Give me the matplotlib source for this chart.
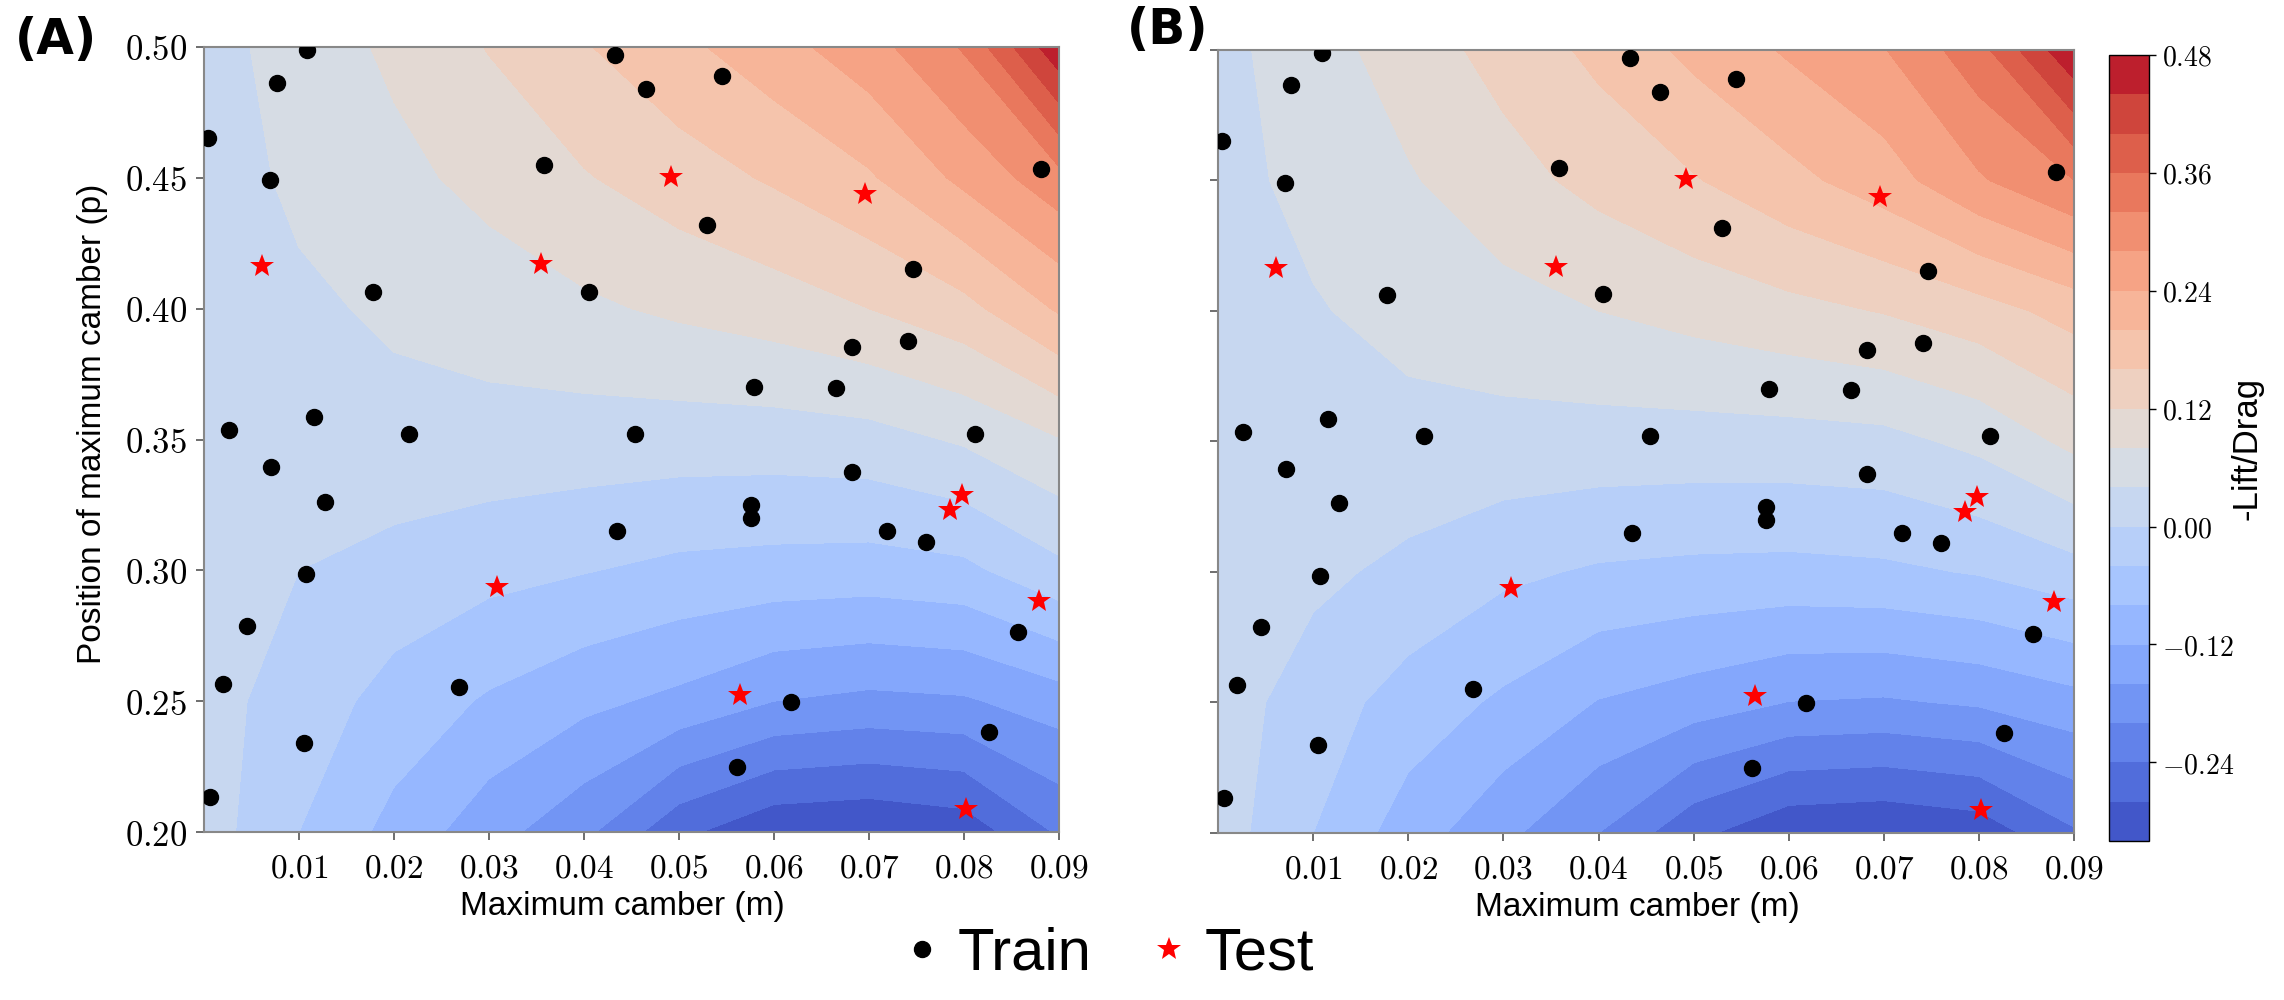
import numpy as np
import matplotlib
matplotlib.use("Agg")
import matplotlib.pyplot as plt
from matplotlib.lines import Line2D
from matplotlib.ticker import FuncFormatter

plt.rcParams["mathtext.fontset"] = "cm"

camber_grid = [0.00, 0.01, 0.02, 0.03, 0.04, 0.05, 0.06, 0.07, 0.08, 0.09]
position_grid = [0.20, 0.25, 0.30, 0.35, 0.40, 0.45, 0.50]

# panel (A), one row per position value
lift_drag_a = [
    [0.020, -0.040, -0.093, -0.144, -0.190, -0.270, -0.312, -0.318, -0.305, -0.235],
    [0.015, -0.018, -0.055, -0.085, -0.110, -0.130, -0.160, -0.170, -0.165, -0.140],
    [0.025, 0.000, -0.015, -0.028, -0.038, -0.050, -0.055, -0.058, -0.050, -0.010],
    [0.030, 0.030, 0.028, 0.025, 0.022, 0.020, 0.020, 0.025, 0.045, 0.078],
    [0.020, 0.033, 0.046, 0.059, 0.073, 0.087, 0.100, 0.120, 0.147, 0.205],
    [0.020, 0.048, 0.069, 0.092, 0.117, 0.141, 0.165, 0.195, 0.250, 0.306],
    [0.025, 0.056, 0.088, 0.122, 0.157, 0.190, 0.224, 0.264, 0.324, 0.470],
]

# panel (B)
lift_drag_b = [
    [0.020, -0.040, -0.100, -0.150, -0.200, -0.270, -0.312, -0.318, -0.305, -0.245],
    [0.020, -0.020, -0.057, -0.087, -0.122, -0.140, -0.161, -0.165, -0.155, -0.135],
    [0.030, 0.009, -0.010, -0.032, -0.045, -0.050, -0.052, -0.048, -0.037, -0.015],
    [0.030, 0.030, 0.028, 0.026, 0.024, 0.023, 0.024, 0.028, 0.050, 0.090],
    [0.018, 0.037, 0.052, 0.066, 0.080, 0.094, 0.108, 0.122, 0.143, 0.175],
    [0.027, 0.051, 0.076, 0.105, 0.132, 0.157, 0.188, 0.221, 0.275, 0.320],
    [0.028, 0.062, 0.100, 0.134, 0.170, 0.210, 0.245, 0.278, 0.345, 0.475],
]

train_m = [0.0109, 0.0077, 0.0004, 0.0070, 0.0178, 0.0405, 0.0358, 0.0433, 0.0465, 0.0545,
           0.0530, 0.0881, 0.0746, 0.0741, 0.0682, 0.0579, 0.0665, 0.0454, 0.0812, 0.0026,
           0.0116, 0.0216, 0.0071, 0.0127, 0.0107, 0.0045, 0.0020, 0.0105, 0.0006, 0.0268,
           0.0435, 0.0682, 0.0576, 0.0576, 0.0719, 0.0760, 0.0857, 0.0618, 0.0826, 0.0561]
train_p = [0.4990, 0.4864, 0.4651, 0.4492, 0.4063, 0.4065, 0.4549, 0.4969, 0.4838, 0.4889,
           0.4319, 0.4534, 0.4153, 0.3877, 0.3852, 0.3702, 0.3696, 0.3520, 0.3520, 0.3536,
           0.3585, 0.3520, 0.3394, 0.3263, 0.2986, 0.2788, 0.2566, 0.2339, 0.2135, 0.2553,
           0.3150, 0.3377, 0.3250, 0.3199, 0.3150, 0.3110, 0.2763, 0.2498, 0.2384, 0.2248]

test_m = [0.0061, 0.0355, 0.0492, 0.0696, 0.0308, 0.0798, 0.0785, 0.0879, 0.0564, 0.0802]
test_p = [0.4163, 0.4170, 0.4504, 0.4438, 0.2938, 0.3288, 0.3231, 0.2884, 0.2524, 0.2088]

levels = np.arange(-0.32, 0.481, 0.04)
x_ticks = [0.01, 0.02, 0.03, 0.04, 0.05, 0.06, 0.07, 0.08, 0.09]
y_ticks = [0.20, 0.25, 0.30, 0.35, 0.40, 0.45, 0.50]
cbar_ticks = [-0.24, -0.12, 0.00, 0.12, 0.24, 0.36, 0.48]

label_font = ["Liberation Sans", "DejaVu Sans"]
tex_fmt = FuncFormatter(lambda v, pos: "$%.2f$" % v)

fig = plt.figure(figsize=(22.84, 10), dpi=100)
ax_a = fig.add_axes([0.0893, 0.168, 0.3743, 0.785])
ax_b = fig.add_axes([0.5333, 0.167, 0.3748, 0.783])
cax = fig.add_axes([0.9234, 0.159, 0.0175, 0.786])

M, P = np.meshgrid(camber_grid, position_grid)

for ax, z, show_y in [(ax_a, lift_drag_a, True), (ax_b, lift_drag_b, False)]:
    cs = ax.contourf(M, P, np.array(z), levels=levels, cmap="coolwarm")
    ax.plot(train_m, train_p, "o", color="black", ms=11.5, zorder=3)
    ax.plot(test_m, test_p, "*", color="red", ms=18, markeredgewidth=0, zorder=3)
    ax.set_xlim(0, 0.09)
    ax.set_ylim(0.2, 0.5)
    ax.set_xticks(x_ticks)
    ax.set_yticks(y_ticks)
    ax.xaxis.set_major_formatter(tex_fmt)
    ax.yaxis.set_major_formatter(tex_fmt)
    ax.tick_params(axis="x", labelsize=24, length=6, width=1.2, color="#555555", pad=8)
    ax.tick_params(axis="y", labelsize=25, length=6, width=1.2, color="#555555", pad=6,
                   labelleft=show_y)
    for sp in ax.spines.values():
        sp.set_color("#888888")
        sp.set_linewidth(1.5)
    ax.set_xlabel("Maximum camber (m)", fontsize=24, family=label_font)
    ax.xaxis.set_label_coords(0.49, -0.075)

ax_a.set_ylabel("Position of maximum camber (p)", fontsize=24, family=label_font)
ax_a.yaxis.set_label_coords(-0.112, 0.52)

cb = fig.colorbar(cs, cax=cax, ticks=cbar_ticks)
cb.ax.yaxis.set_major_formatter(tex_fmt)
cb.ax.tick_params(labelsize=20, length=5, width=1, pad=4)
cb.outline.set_linewidth(1.0)
fig.text(2247 / 2284, 0.552, "-Lift/Drag", fontsize=25, family=label_font, rotation=90,
         ha="center", va="center")

fig.text(15 / 2284, 0.960, "(A)", fontsize=35, fontweight="bold", ha="left", va="center",
         family=["DejaVu Sans"])
fig.text(1127 / 2284, 0.970, "(B)", fontsize=35, fontweight="bold", ha="left", va="center",
         family=["DejaVu Sans"])

handles = [Line2D([], [], marker="o", color="black", ls="none", ms=11.5),
           Line2D([], [], marker="*", color="red", ls="none", ms=18, markeredgewidth=0)]
fig.legend(handles, ["Train", "Test"], loc="center", bbox_to_anchor=(0.483, 0.046), ncol=2,
           frameon=False, prop={"family": label_font, "size": 43}, handletextpad=0.1,
           columnspacing=0.8, handlelength=1.0)

fig.savefig("out.png", dpi=100)
